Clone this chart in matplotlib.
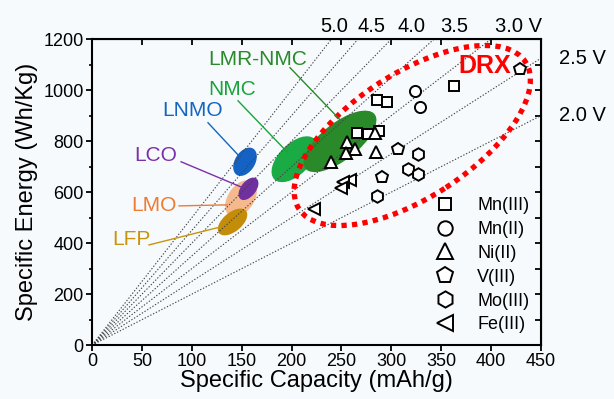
import matplotlib
matplotlib.use("Agg")
import matplotlib.pyplot as plt
from matplotlib.patches import Ellipse
from matplotlib.transforms import ScaledTranslation
import numpy as np

plt.rcParams['font.family'] = ['Liberation Sans', 'DejaVu Sans']

# ---------------- data ----------------
voltages = [5.0, 4.5, 4.0, 3.5, 3.0, 2.5, 2.0]
top_voltage_labels = ["5.0", "4.5", "4.0", "3.5", "3.0 V"]
right_voltage_labels = ["2.5 V", "2.0 V"]

mn3_cap = [286, 296, 363, 266, 277, 288]
mn3_E = [961, 952, 1017, 833, 826, 840]
mn2_cap = [324, 329]
mn2_E = [996, 932]
ni2_cap = [256, 263.5, 255, 240, 285, 283.6]
ni2_E = [796, 768, 754, 719, 758, 833]
v3_cap = [429.5, 307, 291]
v3_E = [1081, 769, 660]
mo3_cap = [327, 317, 327, 286]
mo3_E = [749, 689, 673, 586]
fe3_cap = [259, 252, 250, 222]
fe3_E = [648, 640, 616, 534]

series_names = ["Mn(III)", "Mn(II)", "Ni(II)", "V(III)", "Mo(III)", "Fe(III)"]

# conventional cathodes: name, centre capacity, centre energy
cathodes = ["LFP", "LMO", "LCO", "LNMO", "NMC", "LMR-NMC"]
cath_cap = [140.8, 149.3, 156.8, 153.3, 202.9, 248.5]
cath_E = [483, 575, 613, 719, 729, 799]

drx_cap, drx_E = 321, 822

# ---------------- figure ----------------
BG = '#f6fafd'
fig = plt.figure(figsize=(6.14, 3.99), dpi=100, facecolor=BG)
ax = fig.add_axes([0.150, 0.135, 0.731, 0.767], facecolor=BG)
ax.set_xlim(0, 450)
ax.set_ylim(0, 1200)

# voltage lines
xs = np.array([0, 450])
for v in voltages:
    ax.plot(xs, v * xs, linestyle=(0, (1.2, 1.6)), color='#444444', lw=0.8, zorder=2)

# ellipses (sizes in pixels, centred in data coords)
ell_style = {
    "LFP": dict(w=35, h=19, ang=40, fc='#c38d0a', tc='#c8950a'),
    "LMO": dict(w=41, h=26, ang=55, fc='#f6b98e', tc='#f07a30'),
    "LCO": dict(w=26, h=15, ang=52, fc='#7030a0', tc='#7b2fa8'),
    "LNMO": dict(w=31, h=20, ang=58, fc='#1462c4', tc='#1565c0'),
    "NMC": dict(w=57, h=31, ang=45, fc='#1aab45', tc='#1aa33b'),
    "LMR-NMC": dict(w=88, h=37, ang=38, fc='#2a8a2a', tc='#2a8a2a'),
}
zord = {"LMO": 1.2, "LFP": 1.3, "LCO": 1.4, "LNMO": 1.4, "NMC": 1.4, "LMR-NMC": 1.5}
for name, c, e in zip(cathodes, cath_cap, cath_E):
    s = ell_style[name]
    tr = fig.dpi_scale_trans + ScaledTranslation(c, e, ax.transData)
    ax.add_patch(Ellipse((0, 0), s['w'] / 100, s['h'] / 100, angle=s['ang'],
                         facecolor=s['fc'], edgecolor='none', transform=tr, zorder=zord[name]))

# labels + leaders (layout positions in data units)
label_pos = {
    "LMR-NMC": ((165.9, 1121), (198.4, 1088), (248.5, 884)),
    "NMC": ((140.3, 1003), (146.3, 958), (195.4, 758)),
    "LNMO": ((100.7, 921), (116.2, 872), (146.3, 746)),
    "LCO": ((63.6, 743), (89.2, 719), (151.3, 617)),
    "LMO": ((61.6, 548), (87.2, 546), (135.3, 550)),
    "LFP": ((39.1, 414), (57.1, 393), (128.3, 463)),
}
for name in cathodes:
    (tx, ty), p0, p1 = label_pos[name]
    col = ell_style[name]['tc']
    ax.text(tx, ty, name, color=col, fontsize=15, ha='center', va='center', zorder=6)
    ax.plot([p0[0], p1[0]], [p0[1], p1[1]], color=col, lw=1.0, zorder=6)

# DRX ellipse
tr = fig.dpi_scale_trans + ScaledTranslation(drx_cap, drx_E, ax.transData)
ax.add_patch(Ellipse((0, 0), 2.70, 1.24, angle=33, facecolor='none', edgecolor='#ff0000',
                     lw=3.8, linestyle=(0, (1, 1)), transform=tr, zorder=3))
ax.text(394, 1096, "DRX", color='#ff0000', fontsize=18, fontweight='bold',
        ha='center', va='center', zorder=6)

# markers
mk = dict(mfc='white', mec='black', mew=1.4, linestyle='none', zorder=5)
ax.plot(mn3_cap, mn3_E, marker='s', ms=7, label=series_names[0], **mk)
ax.plot(mn2_cap, mn2_E, marker='o', ms=8, label=series_names[1], **mk)
ax.plot(ni2_cap, ni2_E, marker='^', ms=9, label=series_names[2], **mk)
ax.plot(v3_cap, v3_E, marker='p', ms=9, label=series_names[3], **mk)
ax.plot(mo3_cap, mo3_E, marker='h', ms=9, label=series_names[4], **mk)
ax.plot(fe3_cap, fe3_E, marker='<', ms=9, label=series_names[5], **mk)

leg = ax.legend(loc='lower right', bbox_to_anchor=(1.0, 0.0), frameon=False, fontsize=13,
                markerscale=1.3, handlelength=1.0, handletextpad=1.3, labelspacing=0.38,
                borderaxespad=0.25)

# voltage labels
top_x = [228.5, 266.5, 306.6, 348.7, 403.8]
for lab, x in zip(top_voltage_labels, top_x):
    ax.text(x, 1.023, lab, transform=ax.get_xaxis_transform(), ha='left', va='baseline',
            fontsize=14.5, clip_on=False)
for lab, v in zip(right_voltage_labels, voltages[5:]):
    ax.text(1.04, v * 450, lab, transform=ax.get_yaxis_transform(), ha='left', va='center',
            fontsize=14.5, clip_on=False)

# axes styling
for sp in ax.spines.values():
    sp.set_linewidth(1.5)
ax.set_xticks(np.arange(0, 451, 50))
ax.set_yticks(np.arange(0, 1201, 200))
ax.set_yticks(np.arange(100, 1200, 200), minor=True)
ax.tick_params(axis='both', which='major', direction='out', length=4, width=1.3,
               labelsize=13, pad=2)
ax.tick_params(axis='y', which='minor', direction='out', length=2.5, width=1.2)
ax.set_xlabel("Specific Capacity (mAh/g)", fontsize=17, labelpad=0)
ax.set_ylabel("Specific Energy (Wh/Kg)", fontsize=17, labelpad=4)

secx = ax.secondary_xaxis('top')
secx.set_xticks(np.arange(0, 451, 50))
secx.tick_params(direction='in', length=4, width=1.3, labeltop=False)
secy = ax.secondary_yaxis('right')
secy.set_yticks(np.arange(0, 1201, 100))
secy.tick_params(direction='in', length=4, width=1.3, labelright=False)

fig.savefig("out.png", dpi=100, facecolor=BG)
